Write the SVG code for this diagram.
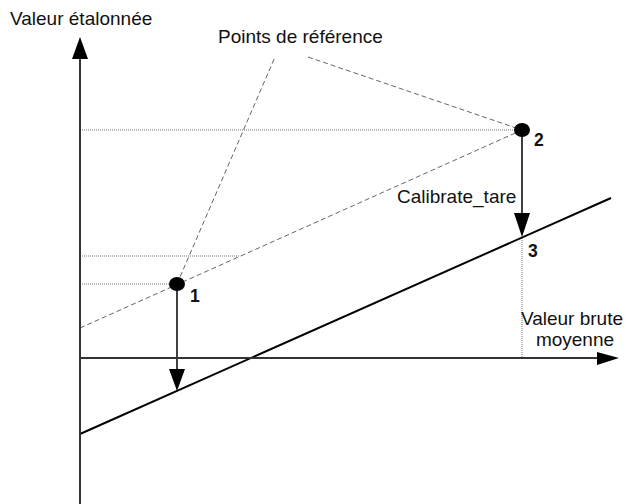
<svg xmlns="http://www.w3.org/2000/svg" width="628" height="504" viewBox="0 0 628 504">
<style>
text{font-family:"Liberation Sans",Arial,sans-serif;fill:#111}
.lbl{font-size:19px}
.num{font-size:17.5px;font-weight:bold}
.axis{stroke:#333;stroke-width:2;fill:none}
.dot{stroke:#777;stroke-width:1;stroke-dasharray:1 1;fill:none}
.dash{stroke:#666;stroke-width:1;stroke-dasharray:5 3;fill:none}
.arr{stroke:#000;stroke-width:1.5;fill:none}
</style>
<rect width="628" height="504" fill="#fff"/>
<g id="connectors">
<line class="dot" x1="80" y1="130" x2="522" y2="130"/>
<line class="dot" x1="80" y1="256" x2="240" y2="256"/>
<line class="dot" x1="80" y1="284" x2="177" y2="284"/>
<line class="dot" x1="522" y1="238" x2="522" y2="358"/>
<line class="dash" x1="80" y1="328" x2="522" y2="130"/>
<line class="dash" x1="177" y1="284" x2="275" y2="57"/>
<line class="dash" x1="308" y1="57" x2="522" y2="130"/>
<line x1="80" y1="434" x2="611" y2="198" stroke="#000" stroke-width="2"/>
<line class="arr" x1="177" y1="284" x2="177" y2="372"/>
<polygon points="169,369 185,369 177,391" fill="#000"/>
<line class="arr" x1="522" y1="130" x2="522" y2="216"/>
<polygon points="514,213 530,213 522,237" fill="#000"/>
</g>
<g id="y-axis">
<line class="axis" x1="80" y1="56" x2="80" y2="504"/>
<polygon points="72,59 88,59 80,37" fill="#000"/>
<text class="lbl" x="10" y="25">Valeur étalonnée</text>
</g>
<g id="x-axis">
<line class="axis" x1="80" y1="358" x2="600" y2="358"/>
<polygon points="597,352 597,365 619,358" fill="#000"/>
<text class="lbl" x="572" y="325" text-anchor="middle">Valeur brute</text>
<text class="lbl" x="575" y="346" text-anchor="middle">moyenne</text>
</g>
<g id="label-ref">
<text class="lbl" x="218" y="43">Points de référence</text>
</g>
<g id="point1">
<ellipse cx="177" cy="284" rx="8" ry="7" fill="#000"/>
<text class="num" x="190" y="302">1</text>
</g>
<g id="point2">
<ellipse cx="522" cy="130" rx="8" ry="7" fill="#000"/>
<text class="num" x="534" y="146">2</text>
</g>
<g id="point3">
<text class="num" x="528" y="257">3</text>
</g>
<g id="calibrate-label">
<text class="lbl" x="397" y="203">Calibrate_tare</text>
</g>
</svg>
